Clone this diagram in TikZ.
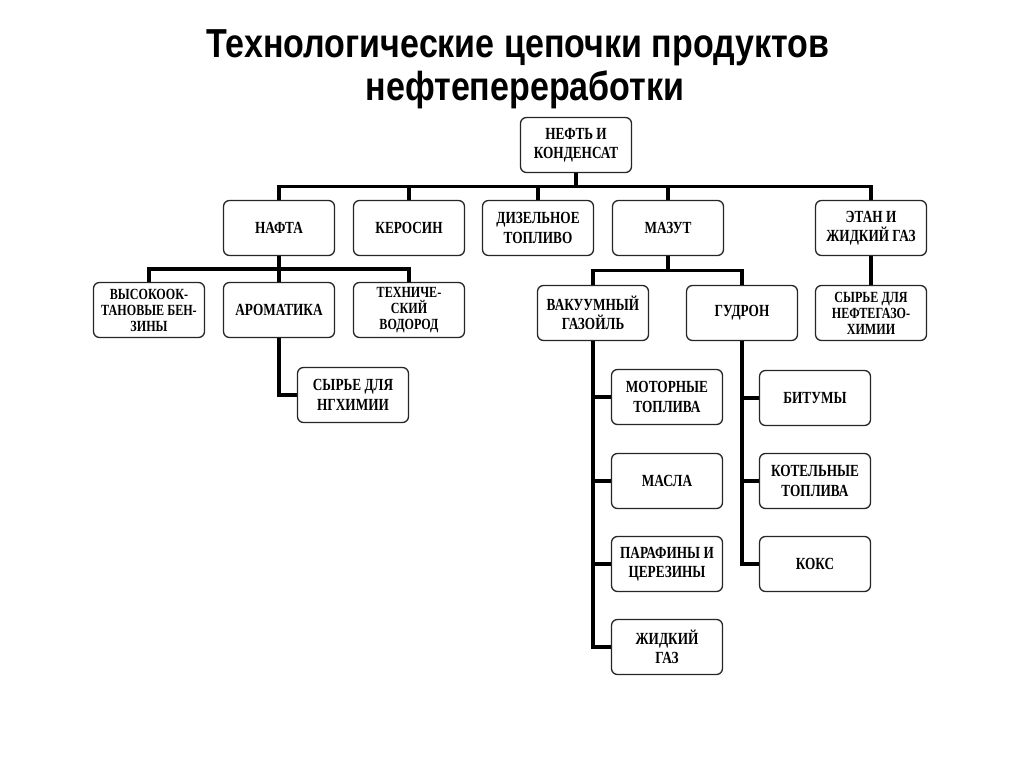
\documentclass[tikz,border=0pt]{standalone}
\usepackage{fontspec}
\setmainfont{Liberation Serif}
\newfontfamily\boxfont{Liberation Serif}[FakeStretch=0.78]
\newfontfamily\titlefont{Liberation Sans}[FakeStretch=0.84]
\usetikzlibrary{calc}

\begin{document}
\begin{tikzpicture}[x=1pt,y=-1pt,
  box/.style={draw=black!85,line width=1.3pt,rounded corners=6pt,fill=white,
    minimum width=111pt,minimum height=55pt,inner sep=1pt,align=center,
    font=\boxfont\bfseries\fontsize{17}{19.5}\selectfont},
  tri/.style={font=\boxfont\bfseries\fontsize{15.5}{16}\selectfont},
  title/.style={font=\titlefont\bfseries\fontsize{40.5}{44}\selectfont},
  link/.style={line width=3.2pt,black},
  fork/.style={to path={|- ($(\tikztostart)!0.5!(\tikztotarget)$) -| (\tikztotarget)}},
  side/.style={to path={(\tikztostart.south) |- (\tikztotarget.west)}}]

  \fill[white] (0,0) rectangle (1024,767);
  \useasboundingbox (0,0) rectangle (1024,767);

  \node[title] (t1) at (518,48) {Технологические цепочки продуктов};
  \node[title] (t2) at (525,90) {нефтепереработки};

  \node[box] (oil) at (576,145) {НЕФТЬ И\\КОНДЕНСАТ};
  \node[box] (nafta) at (279,228) {НАФТА};
  \node[box] (kero) at (409,228) {КЕРОСИН};
  \node[box] (diesel) at (538,228) {ДИЗЕЛЬНОЕ\\ТОПЛИВО};
  \node[box] (mazut) at (668,228) {МАЗУТ};
  \node[box] (ethane) at (871,228) {ЭТАН И\\ЖИДКИЙ ГАЗ};

  \node[box,tri] (benz) at (149,310) {ВЫСОКООК-\\ТАНОВЫЕ БЕН-\\ЗИНЫ};
  \node[box] (arom) at (279,310) {АРОМАТИКА};
  \node[box,tri] (hydro) at (409,310) {ТЕХНИЧЕ-\\СКИЙ\\ВОДОРОД};
  \node[box] (ngchem) at (353,395) {СЫРЬЕ ДЛЯ\\НГХИМИИ};

  \node[box] (vgo) at (593,313) {ВАКУУМНЫЙ\\ГАЗОЙЛЬ};
  \node[box] (tar) at (742,313) {ГУДРОН};
  \node[box,tri] (petchem) at (871,313) {СЫРЬЕ ДЛЯ\\НЕФТЕГАЗО-\\ХИМИИ};

  \node[box] (motor) at (667,397) {МОТОРНЫЕ\\ТОПЛИВА};
  \node[box] (oils) at (667,481) {МАСЛА};
  \node[box] (wax) at (667,564) {ПАРАФИНЫ И\\ЦЕРЕЗИНЫ};
  \node[box] (lpg) at (667,647) {ЖИДКИЙ\\ГАЗ};

  \node[box] (bitum) at (815,398) {БИТУМЫ};
  \node[box] (boiler) at (815,481) {КОТЕЛЬНЫЕ\\ТОПЛИВА};
  \node[box] (coke) at (815,564) {КОКС};

  \path[link]
    (oil) edge[fork] (nafta)
    (oil) edge[fork] (kero)
    (oil) edge[fork] (diesel)
    (oil) edge[fork] (mazut)
    (oil) edge[fork] (ethane);

  \path[link]
    (nafta) edge[fork] (benz)
    (nafta) edge[fork] (arom)
    (nafta) edge[fork] (hydro)
    (arom) edge[side] (ngchem);

  \path[link]
    (mazut) edge[fork] (vgo)
    (mazut) edge[fork] (tar)
    (ethane) edge (petchem);

  \path[link]
    (vgo) edge[side] (motor)
    (vgo) edge[side] (oils)
    (vgo) edge[side] (wax)
    (vgo) edge[side] (lpg);

  \path[link]
    (tar) edge[side] (bitum)
    (tar) edge[side] (boiler)
    (tar) edge[side] (coke);

\end{tikzpicture}
\end{document}
